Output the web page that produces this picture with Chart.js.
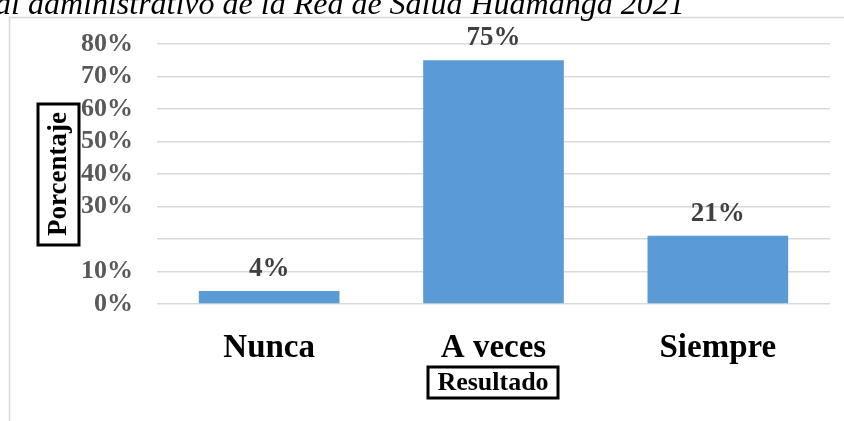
<!DOCTYPE html>
<html>
<head>
<meta charset="utf-8">
<script src="https://cdn.jsdelivr.net/npm/chart.js@4.4.1/dist/chart.umd.min.js"></script>
<style>
  html, body { margin: 0; padding: 0; background: #fff; }
  #wrap { width: 844px; height: 421px; position: relative; }
</style>
</head>
<body>
<div id="wrap"><canvas id="grafico" width="844" height="421"></canvas></div>
<script>
// Datos del grafico
const categorias = ['Nunca', 'A veces', 'Siempre'];
const porcentajes = [4, 75, 21];
const ticksY = [0, 10, 20, 30, 40, 50, 60, 70, 80];
const ticksOcultos = [20];
const tituloCortado = 'al administrativo de la Red de Salud Huamanga 2021';
const tituloY = 'Porcentaje';
const tituloX = 'Resultado';

const SERIF = '"Liberation Serif", "Times New Roman", serif';

// Marco, titulo y cajas de los ejes
const decoraciones = {
  id: 'decoraciones',
  beforeDraw(chart) {
    const ctx = chart.ctx;
    ctx.save();
    ctx.strokeStyle = '#d9d9d9';
    ctx.lineWidth = 1.5;
    ctx.beginPath();
    ctx.moveTo(9.5, 421);
    ctx.lineTo(9.5, 17.5);
    ctx.lineTo(844, 17.5);
    ctx.stroke();

    ctx.fillStyle = '#000';
    ctx.font = 'italic 32px ' + SERIF;
    ctx.textAlign = 'left';
    ctx.textBaseline = 'alphabetic';
    ctx.fillText(tituloCortado, -5, 14);
    ctx.restore();
  },
  afterDraw(chart) {
    const ctx = chart.ctx;
    ctx.save();
    ctx.fillStyle = '#000';
    ctx.strokeStyle = '#000';
    ctx.lineWidth = 3;
    ctx.textAlign = 'center';
    ctx.textBaseline = 'middle';

    // titulo eje X
    ctx.strokeRect(428, 367, 130, 31);
    ctx.font = 'bold 26px ' + SERIF;
    ctx.fillText(tituloX, 493, 383);

    // titulo eje Y
    ctx.strokeRect(38, 104, 41, 141);
    ctx.translate(58, 174);
    ctx.rotate(-Math.PI / 2);
    ctx.font = 'bold 27px ' + SERIF;
    ctx.fillText(tituloY, 0, 1);
    ctx.restore();
  }
};

// Etiquetas de valor encima de las barras
const etiquetas = {
  id: 'etiquetas',
  afterDatasetsDraw(chart) {
    const ctx = chart.ctx;
    const meta = chart.getDatasetMeta(0);
    ctx.save();
    ctx.fillStyle = '#404040';
    ctx.font = 'bold 27px ' + SERIF;
    ctx.textAlign = 'center';
    ctx.textBaseline = 'middle';
    meta.data.forEach(function(bar, i) {
      ctx.fillText(porcentajes[i] + '%', bar.x, bar.y - 22);
    });
    ctx.restore();
  }
};

const ctx = document.getElementById('grafico').getContext('2d');
const grafico = new Chart(ctx, {
  type: 'bar',
  data: {
    labels: categorias,
    datasets: [{
      data: porcentajes,
      backgroundColor: '#5b9bd5',
      borderWidth: 0,
      categoryPercentage: 1,
      barPercentage: 0.627
    }]
  },
  options: {
    responsive: false,
    animation: false,
    devicePixelRatio: 1,
    layout: { padding: { top: 44, right: 14, left: 0, bottom: 0 } },
    plugins: {
      legend: { display: false },
      tooltip: { enabled: false }
    },
    scales: {
      x: {
        grid: { display: false },
        border: { display: false },
        ticks: {
          color: '#000',
          font: { family: SERIF, size: 33, weight: 'bold' },
          padding: 17
        },
        afterFit: function(s) { s.height = 117; }
      },
      y: {
        min: 0,
        max: 80,
        afterBuildTicks: function(s) {
          s.ticks = ticksY.map(v => ({ value: v }));
        },
        grid: { color: '#d9d9d9', lineWidth: 1.5, drawTicks: false },
        border: { display: false },
        ticks: {
          autoSkip: false,
          color: '#595959',
          font: { family: SERIF, size: 26, weight: 'bold', lineHeight: 1 },
          padding: 24,
          callback: function(value) {
            return ticksOcultos.includes(value) ? '' : value + '%';
          }
        },
        afterFit: function(s) { s.width = 157; }
      }
    }
  },
  plugins: [decoraciones, etiquetas]
});
</script>
</body>
</html>
